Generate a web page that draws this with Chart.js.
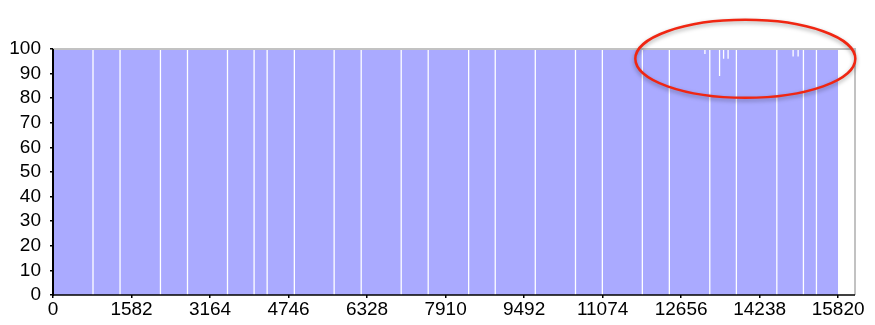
<!DOCTYPE html>
<html>
<head>
<meta charset="utf-8">
<script src="https://cdn.jsdelivr.net/npm/chart.js@4/dist/chart.umd.min.js"></script>
<style>
  html, body { margin: 0; padding: 0; background: #fff; }
</style>
</head>
<body>
<canvas id="myChart" width="875" height="325"></canvas>
<script>
// values
const xTickLabels = [0, 1582, 3164, 4746, 6328, 7910, 9492, 11074, 12656, 14238, 15820];
const yTickLabels = [0, 10, 20, 30, 40, 50, 60, 70, 80, 90, 100];
const fullValue = 100;
const lastX = 15820;
const axisMaxX = 16160;

// positions where the series drops to 0 (the thin white lines)
const gapX = [806, 1351, 2165, 2710, 3516, 4052, 4315, 4863, 5665, 6210, 7016, 7560,
  8375, 8911, 9718, 10528, 11069, 11875, 12419, 13234, 13770, 14585, 15121, 15383];
// small dips near the top (inside the red circle)
const dipX = [13136, 13431, 13512, 13603, 14913, 15014];
const dipY = [98, 89, 96, 96, 97, 97];

const notch = 13; // half width of a drop, in x units

let events = gapX.map(x => ({ x: x, y: 0 }));
dipX.forEach((x, i) => events.push({ x: x, y: dipY[i] }));
events.sort((a, b) => a.x - b.x);

let points = [{ x: 0, y: fullValue }];
events.forEach(e => {
  points.push({ x: e.x - notch, y: fullValue });
  points.push({ x: e.x - notch, y: e.y });
  points.push({ x: e.x + notch, y: e.y });
  points.push({ x: e.x + notch, y: fullValue });
});
points.push({ x: lastX, y: fullValue });

const frame = {
  id: 'frame',
  afterDatasetsDraw(chart) {
    const ctx = chart.ctx;
    const a = chart.chartArea;
    ctx.save();
    // grey top and right edge
    ctx.strokeStyle = '#c2c2c2';
    ctx.lineWidth = 2;
    ctx.beginPath();
    ctx.moveTo(a.left, a.top);
    ctx.lineTo(a.right, a.top);
    ctx.lineTo(a.right, a.bottom);
    ctx.stroke();
    // black axes on top of the fill
    ctx.strokeStyle = '#000';
    ctx.lineWidth = 1.5;
    ctx.beginPath();
    ctx.moveTo(a.left, a.bottom);
    ctx.lineTo(a.right, a.bottom);
    ctx.stroke();
    ctx.lineWidth = 2;
    ctx.beginPath();
    ctx.moveTo(a.left, a.top);
    ctx.lineTo(a.left, a.bottom + 1);
    ctx.stroke();
    ctx.restore();
  },
  afterDraw(chart) {
    // the red annotation ring
    const ctx = chart.ctx;
    const cx = chart.scales.x.getPixelForValue(13950);
    const cy = chart.scales.y.getPixelForValue(96);
    ctx.save();
    ctx.shadowColor = 'rgba(0,0,0,0.35)';
    ctx.shadowBlur = 4;
    ctx.shadowOffsetY = 2;
    ctx.strokeStyle = 'rgb(240,38,18)';
    ctx.lineWidth = 2.5;
    ctx.beginPath();
    ctx.ellipse(cx, cy, 110, 39, 0, 0, Math.PI * 2);
    ctx.stroke();
    ctx.restore();
  }
};

const tickFont = { family: 'Liberation Sans', size: 19 };

const ctx = document.getElementById('myChart').getContext('2d');
const myChart = new Chart(ctx, {
  type: 'line',
  data: {
    datasets: [{
      data: points,
      fill: 'origin',
      backgroundColor: 'rgb(170,170,255)',
      borderWidth: 0,
      pointRadius: 0,
      tension: 0
    }]
  },
  options: {
    responsive: false,
    animation: false,
    events: [],
    layout: { padding: { top: 49, right: 20, left: 0, bottom: 0 } },
    plugins: { legend: { display: false }, tooltip: { enabled: false } },
    scales: {
      x: {
        type: 'linear',
        min: 0,
        max: axisMaxX,
        afterFit(s) { s.height = 30; },
        afterBuildTicks(s) { s.ticks = xTickLabels.map(v => ({ value: v })); },
        grid: { drawOnChartArea: false, tickLength: 3, color: '#000', lineWidth: 1.5 },
        border: { display: false },
        ticks: { color: '#000', padding: 0, maxRotation: 0, autoSkip: false,
          font: tickFont, callback: v => String(v) }
      },
      y: {
        min: 0,
        max: 100,
        afterFit(s) { s.width = 53; },
        afterBuildTicks(s) { s.ticks = yTickLabels.map(v => ({ value: v })); },
        grid: { drawOnChartArea: false, tickLength: 3, color: '#000', lineWidth: 1.5 },
        border: { display: false },
        ticks: { color: '#000', padding: 9, autoSkip: false, font: tickFont,
          callback: v => String(v) }
      }
    }
  },
  plugins: [frame]
});
</script>
</body>
</html>
